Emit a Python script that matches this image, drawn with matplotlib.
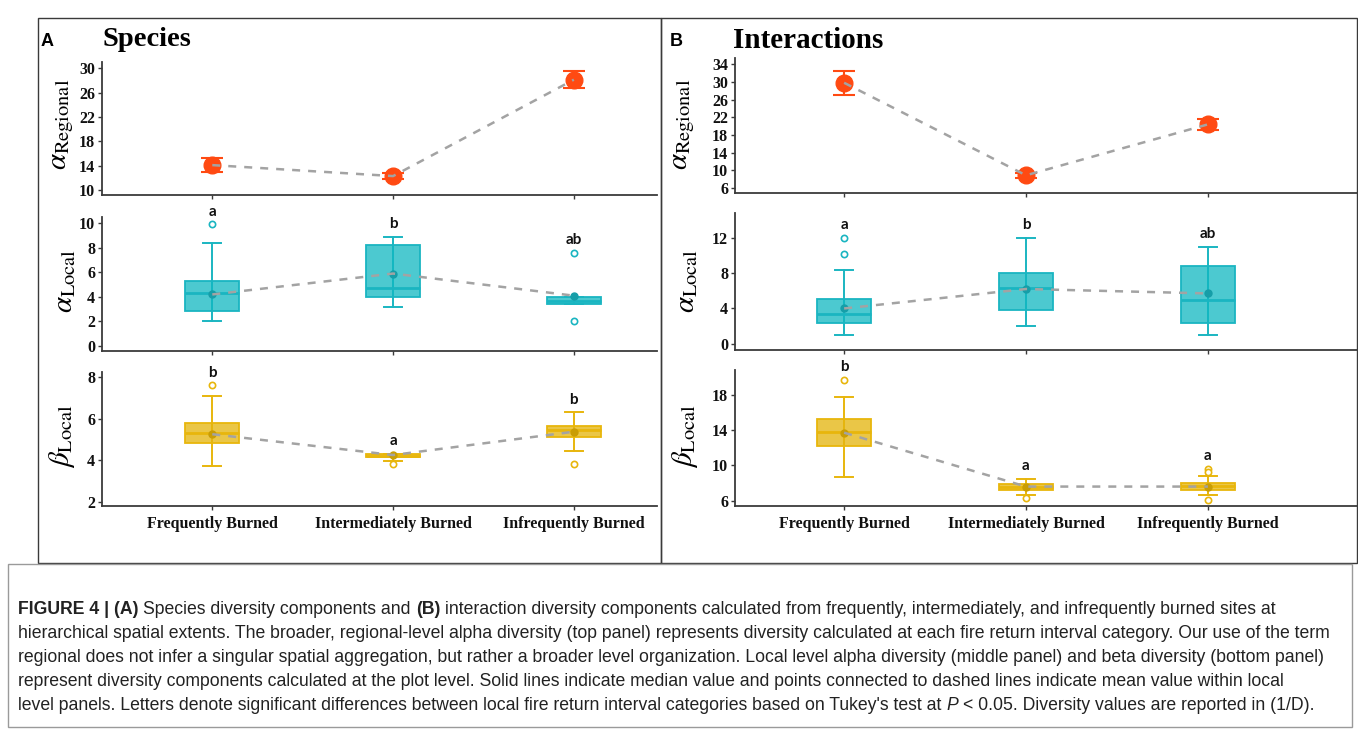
import numpy as np
import matplotlib.pyplot as plt
from matplotlib.patches import Rectangle

W, H = 1358, 729
plt.rcParams['mathtext.fontset'] = 'stix'

categories = ['Frequently Burned', 'Intermediately Burned', 'Infrequently Burned']
xpos = [1, 2, 3]

# regional alpha (mean +/- error)
sp_reg_mean = [14.1, 12.3, 28.1]
sp_reg_err = [1.1, 0.5, 1.4]
int_reg_mean = [29.8, 8.9, 20.4]
int_reg_err = [2.7, 0.6, 1.2]

# species, local alpha
sp_aloc_q1 = [2.85, 4.0, 3.4]
sp_aloc_med = [4.3, 4.7, 3.7]
sp_aloc_q3 = [5.3, 8.2, 4.0]
sp_aloc_lo = [2.0, 3.2, 3.4]
sp_aloc_hi = [8.4, 8.9, 4.0]
sp_aloc_mean = [4.2, 5.9, 4.1]
sp_aloc_out = [[9.9], [], [7.6, 2.0]]
sp_aloc_letters = ['a', 'b', 'ab']

# species, local beta
sp_bloc_q1 = [4.84, 4.16, 5.13]
sp_bloc_med = [5.3, 4.2, 5.46]
sp_bloc_q3 = [5.8, 4.3, 5.65]
sp_bloc_lo = [3.7, 3.97, 4.45]
sp_bloc_hi = [7.1, 4.3, 6.3]
sp_bloc_mean = [5.25, 4.25, 5.37]
sp_bloc_out = [[7.6], [3.8], [3.83]]
sp_bloc_letters = ['b', 'a', 'b']

# interactions, local alpha
int_aloc_q1 = [2.3, 3.85, 2.4]
int_aloc_med = [3.4, 6.3, 5.0]
int_aloc_q3 = [5.1, 8.0, 8.8]
int_aloc_lo = [1.0, 2.0, 1.0]
int_aloc_hi = [8.4, 12.0, 11.0]
int_aloc_mean = [4.0, 6.2, 5.7]
int_aloc_out = [[12.0, 10.2], [], []]
int_aloc_letters = ['a', 'b', 'ab']

# interactions, local beta
int_bloc_q1 = [12.2, 7.25, 7.25]
int_bloc_med = [13.8, 7.6, 7.7]
int_bloc_q3 = [15.3, 7.9, 8.0]
int_bloc_lo = [8.7, 6.6, 6.7]
int_bloc_hi = [17.7, 8.5, 8.85]
int_bloc_mean = [13.7, 7.6, 7.6]
int_bloc_out = [[19.7], [6.25], [9.6, 9.3, 6.1]]
int_bloc_letters = ['b', 'a', 'a']

ORANGE = '#ff4a12'
TEAL_FILL = (0.0, 0.70, 0.74, 0.70)
TEAL_EDGE = '#1ab5c1'
TEAL_DOT = '#169ea8'
YEL_FILL = (0.89, 0.69, 0.0, 0.72)
YEL_EDGE = '#e8b60c'
YEL_DOT = '#c99d05'
GRAY = '#a3a3a3'
SPINE = '#3a3a3a'


def px(x0, y0, x1, y1):
    return [x0 / W, 1 - y1 / H, (x1 - x0) / W, (y1 - y0) / H]


def style(ax, ylim, yticks, xlim, show_x):
    for s in ['top', 'right']:
        ax.spines[s].set_visible(False)
    for s in ['left', 'bottom']:
        ax.spines[s].set_color(SPINE)
        ax.spines[s].set_linewidth(1.3)
    ax.set_ylim(*ylim)
    ax.set_xlim(*xlim)
    ax.set_yticks(yticks)
    ax.set_xticks(xpos)
    if show_x:
        ax.set_xticklabels(categories)
    else:
        ax.set_xticklabels([])
    ax.tick_params(length=3, width=1, color=SPINE, pad=2)
    for lab in ax.get_yticklabels() + ax.get_xticklabels():
        lab.set_family('Liberation Serif')
        lab.set_fontweight('bold')
        lab.set_fontsize(11.5)
        lab.set_color('#111111')
    ax.tick_params(axis='x', pad=4)


def regional(ax, mean, err):
    ax.errorbar(xpos, mean, yerr=err, fmt='o', ms=12, color=ORANGE,
                ecolor=ORANGE, elinewidth=1.5, capsize=8, capthick=1.5, zorder=3)
    ax.plot(xpos, mean, color=GRAY, lw=1.8, dashes=(3.2, 3.2), zorder=4)


def boxes(ax, q1, med, q3, lo, hi, mean, out, letters, fill, edge, dot):
    stats = []
    for i in range(3):
        stats.append(dict(q1=q1[i], med=med[i], q3=q3[i], whislo=lo[i],
                          whishi=hi[i], mean=mean[i], fliers=out[i]))
    ax.vlines(xpos, lo, hi, color=edge, lw=1.2, zorder=1)
    ax.bxp(stats, positions=xpos, widths=0.3, capwidths=0.1, patch_artist=True,
           showmeans=True, manage_ticks=False,
           boxprops=dict(facecolor=fill, edgecolor=edge, linewidth=1.3),
           medianprops=dict(color=edge, linewidth=2),
           whiskerprops=dict(color=edge, linewidth=1.2),
           capprops=dict(color=edge, linewidth=1.4),
           flierprops=dict(marker='o', markerfacecolor='white',
                           markeredgecolor=edge, markersize=4.5, markeredgewidth=1.2),
           meanprops=dict(marker='o', markerfacecolor=dot, markeredgecolor=dot,
                          markersize=5))
    ax.plot(xpos, mean, color=GRAY, lw=1.8, dashes=(3.2, 3.2), zorder=5)
    for i in range(3):
        top = max([hi[i], q3[i]] + out[i])
        ax.annotate(letters[i], (xpos[i], top), xytext=(0, 4),
                    textcoords='offset points', ha='center', va='bottom',
                    fontsize=11, fontweight='bold', family='Lato', color='#111111')


fig = plt.figure(figsize=(W / 100, H / 100), dpi=100)

# panel A
xl_a = (0.39, 3.46)
ax = fig.add_axes(px(102, 62, 657, 195))
regional(ax, sp_reg_mean, sp_reg_err)
style(ax, (9.2, 31), [10, 14, 18, 22, 26, 30], xl_a, False)

ax = fig.add_axes(px(102, 217, 657, 351))
boxes(ax, sp_aloc_q1, sp_aloc_med, sp_aloc_q3, sp_aloc_lo, sp_aloc_hi,
      sp_aloc_mean, sp_aloc_out, sp_aloc_letters, TEAL_FILL, TEAL_EDGE, TEAL_DOT)
style(ax, (-0.4, 10.5), [0, 2, 4, 6, 8, 10], xl_a, False)

ax = fig.add_axes(px(102, 372, 657, 506))
boxes(ax, sp_bloc_q1, sp_bloc_med, sp_bloc_q3, sp_bloc_lo, sp_bloc_hi,
      sp_bloc_mean, sp_bloc_out, sp_bloc_letters, YEL_FILL, YEL_EDGE, YEL_DOT)
style(ax, (1.8, 8.24), [2, 4, 6, 8], xl_a, True)

# panel B
xl_b = (0.40, 3.82)
ax = fig.add_axes(px(735, 58, 1357, 193))
regional(ax, int_reg_mean, int_reg_err)
style(ax, (4.9, 35.4), [6, 10, 14, 18, 22, 26, 30, 34], xl_b, False)

ax = fig.add_axes(px(735, 213, 1357, 350))
boxes(ax, int_aloc_q1, int_aloc_med, int_aloc_q3, int_aloc_lo, int_aloc_hi,
      int_aloc_mean, int_aloc_out, int_aloc_letters, TEAL_FILL, TEAL_EDGE, TEAL_DOT)
style(ax, (-0.7, 14.8), [0, 4, 8, 12], xl_b, False)

ax = fig.add_axes(px(735, 370, 1357, 506))
boxes(ax, int_bloc_q1, int_bloc_med, int_bloc_q3, int_bloc_lo, int_bloc_hi,
      int_bloc_mean, int_bloc_out, int_bloc_letters, YEL_FILL, YEL_EDGE, YEL_DOT)
style(ax, (5.4, 20.8), [6, 10, 14, 18], xl_b, True)

# y labels
ylabels = [r'$\alpha_{\mathrm{Regional}}$', r'$\alpha_{\mathrm{Local}}$', r'$\beta_{\mathrm{Local}}$']
for lab, xa, xb, y in zip(ylabels, [62, 64, 62], [683, 686, 685], [124, 281, 436]):
    fig.text(xa / W, 1 - y / H, lab, rotation=90, ha='center', va='center', fontsize=21)
    fig.text(xb / W, 1 - y / H, lab, rotation=90, ha='center', va='center', fontsize=21)

# panel letters and titles
fig.text(41 / W, 1 - 42 / H, 'A', fontsize=13, fontweight='bold', family='Liberation Sans', va='center')
fig.text(670 / W, 1 - 42 / H, 'B', fontsize=13, fontweight='bold', family='Liberation Sans', va='center')
fig.text(102 / W, 1 - 40 / H, 'Species', fontsize=20.5, fontweight='bold', family='Liberation Serif', va='center')
fig.text(733 / W, 1 - 40 / H, 'Interactions', fontsize=21, fontweight='bold', family='Liberation Serif', va='center')

# frames
for x0, x1 in [(38, 661), (661, 1357)]:
    fig.add_artist(Rectangle((x0 / W, 1 - 563 / H), (x1 - x0) / W, (563 - 18) / H,
                             transform=fig.transFigure, fill=False, ec=SPINE, lw=1))
fig.add_artist(Rectangle((8 / W, 1 - 727 / H), (1352 - 8) / W, (727 - 564) / H,
                         transform=fig.transFigure, fill=False, ec='#9a9a9a', lw=1))

# caption
cap_font = ['Liberation Sans']
caption = [
    [('FIGURE 4 | (A)', 'bold', 'normal'), ('Species diversity components and', 'normal', 'normal'),
     ('(B)', 'bold', 'normal'),
     ('interaction diversity components calculated from frequently, intermediately, and infrequently burned sites at', 'normal', 'normal')],
    [('hierarchical spatial extents. The broader, regional-level alpha diversity (top panel) represents diversity calculated at each fire return interval category. Our use of the term', 'normal', 'normal')],
    [('regional does not infer a singular spatial aggregation, but rather a broader level organization. Local level alpha diversity (middle panel) and beta diversity (bottom panel)', 'normal', 'normal')],
    [('represent diversity components calculated at the plot level. Solid lines indicate median value and points connected to dashed lines indicate mean value within local', 'normal', 'normal')],
    [("level panels. Letters denote significant differences between local fire return interval categories based on Tukey's test at", 'normal', 'normal'),
     ('P', 'normal', 'italic'), ('< 0.05. Diversity values are reported in (1/D).', 'normal', 'normal')],
]
renderer = fig.canvas.get_renderer()


def width(txt, size, weight='normal', st='normal'):
    t = fig.text(0, 0, txt, fontsize=size, family=cap_font, fontweight=weight, fontstyle=st)
    w = t.get_window_extent(renderer).width
    t.remove()
    return w


size = 12 * 1320 / width(caption[1][0][0], 12)
space = width('a a', size) - width('aa', size)
for k, parts in enumerate(caption):
    x = 18
    y = 609 + 24 * k
    for txt, weight, st in parts:
        t = fig.text(x / W, 1 - y / H, txt, fontsize=size, family=cap_font, fontweight=weight,
                     fontstyle=st, va='center', ha='left', color='#222222')
        x += t.get_window_extent(renderer).width + space

fig.savefig('out.png', dpi=100)
